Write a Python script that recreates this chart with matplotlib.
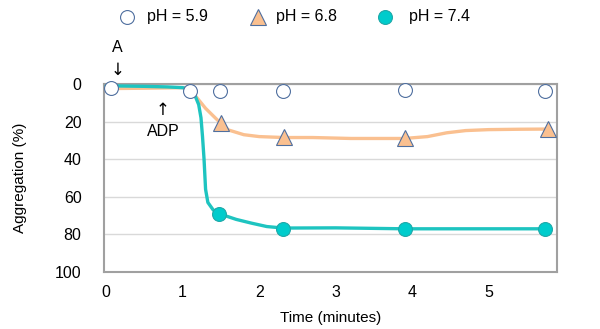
import matplotlib.pyplot as plt
from matplotlib.lines import Line2D

plt.rcParams['font.family'] = ['Liberation Sans', 'DejaVu Sans']

# marker data (time in minutes, aggregation %)
t_59 = [0.07, 1.10, 1.49, 2.31, 3.90, 5.74]
agg_59 = [2, 4, 4, 4, 3, 4]

t_68 = [1.50, 2.32, 3.90, 5.77]
agg_68 = [21, 28, 29, 24]

t_74 = [1.48, 2.31, 3.90, 5.74]
agg_74 = [69, 77, 77, 77]

# traced curves
curve_68_t = [0.0, 0.5, 1.0, 1.1, 1.2, 1.3, 1.4, 1.5, 1.6, 1.8, 2.0, 2.32, 2.7, 3.2, 3.9, 4.2, 4.45, 4.7, 5.0, 5.4, 5.77]
curve_68_y = [2.5, 2.3, 2.0, 3.0, 8.0, 13, 17, 21, 24.5, 27, 28, 28.5, 28.5, 29, 29, 28, 26, 24.8, 24.3, 24.1, 24]

curve_74_t = [0.0, 0.5, 0.8, 1.0, 1.1, 1.16, 1.21, 1.24, 1.26, 1.28, 1.30, 1.33, 1.40, 1.48, 1.7, 1.9, 2.1, 2.31, 3.0, 3.9, 4.8, 5.74]
curve_74_y = [1.0, 1.3, 1.6, 2.0, 3.0, 6.0, 11, 18, 28, 40, 56, 63, 67, 69, 72, 74, 75.8, 76.6, 76.5, 77, 77, 77]

legend_labels = ['pH = 5.9', 'pH = 6.8', 'pH = 7.4']

teal = '#1ec4c0'
teal_fill = '#00cccc'
orange = '#fac090'
edge = '#4f6f9f'

fig = plt.figure(figsize=(6, 3.29), dpi=100)
ax = fig.add_axes([0.173, 0.173, 0.755, 0.572])

ax.plot(curve_68_t, curve_68_y, color=orange, lw=2.4, zorder=2, solid_capstyle='round')
ax.plot(curve_74_t, curve_74_y, color=teal, lw=2.4, zorder=3, solid_capstyle='round')
ax.plot(t_68, agg_68, ls='none', marker='^', ms=11, mfc=orange, mec=edge, mew=0.8, zorder=4)
ax.plot(t_74, agg_74, ls='none', marker='o', ms=10, mfc=teal_fill, mec='#20a8a8', mew=0.8, zorder=5)
ax.plot(t_59, agg_59, ls='none', marker='o', ms=10, mfc='white', mec=edge, mew=0.8, zorder=6, clip_on=False)

ax.set_xlim(-0.03, 5.89)
ax.set_ylim(100, 0)
ax.set_yticks([0, 20, 40, 60, 80, 100])
ax.set_xticks([0, 1, 2, 3, 4, 5])
ax.yaxis.grid(True, color='#d9d9d9', lw=1)
ax.set_axisbelow(True)
for s in ax.spines.values():
    s.set_color('#a0a0a0')
    s.set_linewidth(1.5)
ax.tick_params(length=0, labelsize=11.5)
ax.tick_params(axis='y', pad=16)
ax.tick_params(axis='x', pad=9)
ax.set_xlabel('Time (minutes)', fontsize=11, labelpad=8)
ax.set_ylabel('Aggregation (%)', fontsize=11, labelpad=20)

# annotations
fig.text(117 / 600, 1 - 47 / 329, 'A', fontsize=11.5, ha='center', va='center')
fig.text(118 / 600, 1 - 70 / 329, '\u2193', fontsize=12, ha='center', va='center', family='DejaVu Sans')
fig.text(163 / 600, 1 - 110 / 329, '\u2191', fontsize=12, ha='center', va='center', family='DejaVu Sans')
fig.text(163 / 600, 1 - 131 / 329, 'ADP', fontsize=11.5, ha='center', va='center')

# legend placed by hand
legend_y = 1 - 17 / 329
marker_x = [127, 258, 385]
text_x = [147, 276, 409]
styles = [
    dict(marker='o', ms=10, mfc='white', mec=edge, mew=0.8),
    dict(marker='^', ms=11, mfc=orange, mec=edge, mew=0.8),
    dict(marker='o', ms=10, mfc=teal_fill, mec='#20a8a8', mew=0.8),
]
for mx, tx, st, lab in zip(marker_x, text_x, styles, legend_labels):
    fig.add_artist(Line2D([mx / 600], [legend_y], transform=fig.transFigure, ls='none', **st))
    fig.text(tx / 600, legend_y, lab, fontsize=11.5, ha='left', va='center')

fig.savefig('out.png', dpi=100)
